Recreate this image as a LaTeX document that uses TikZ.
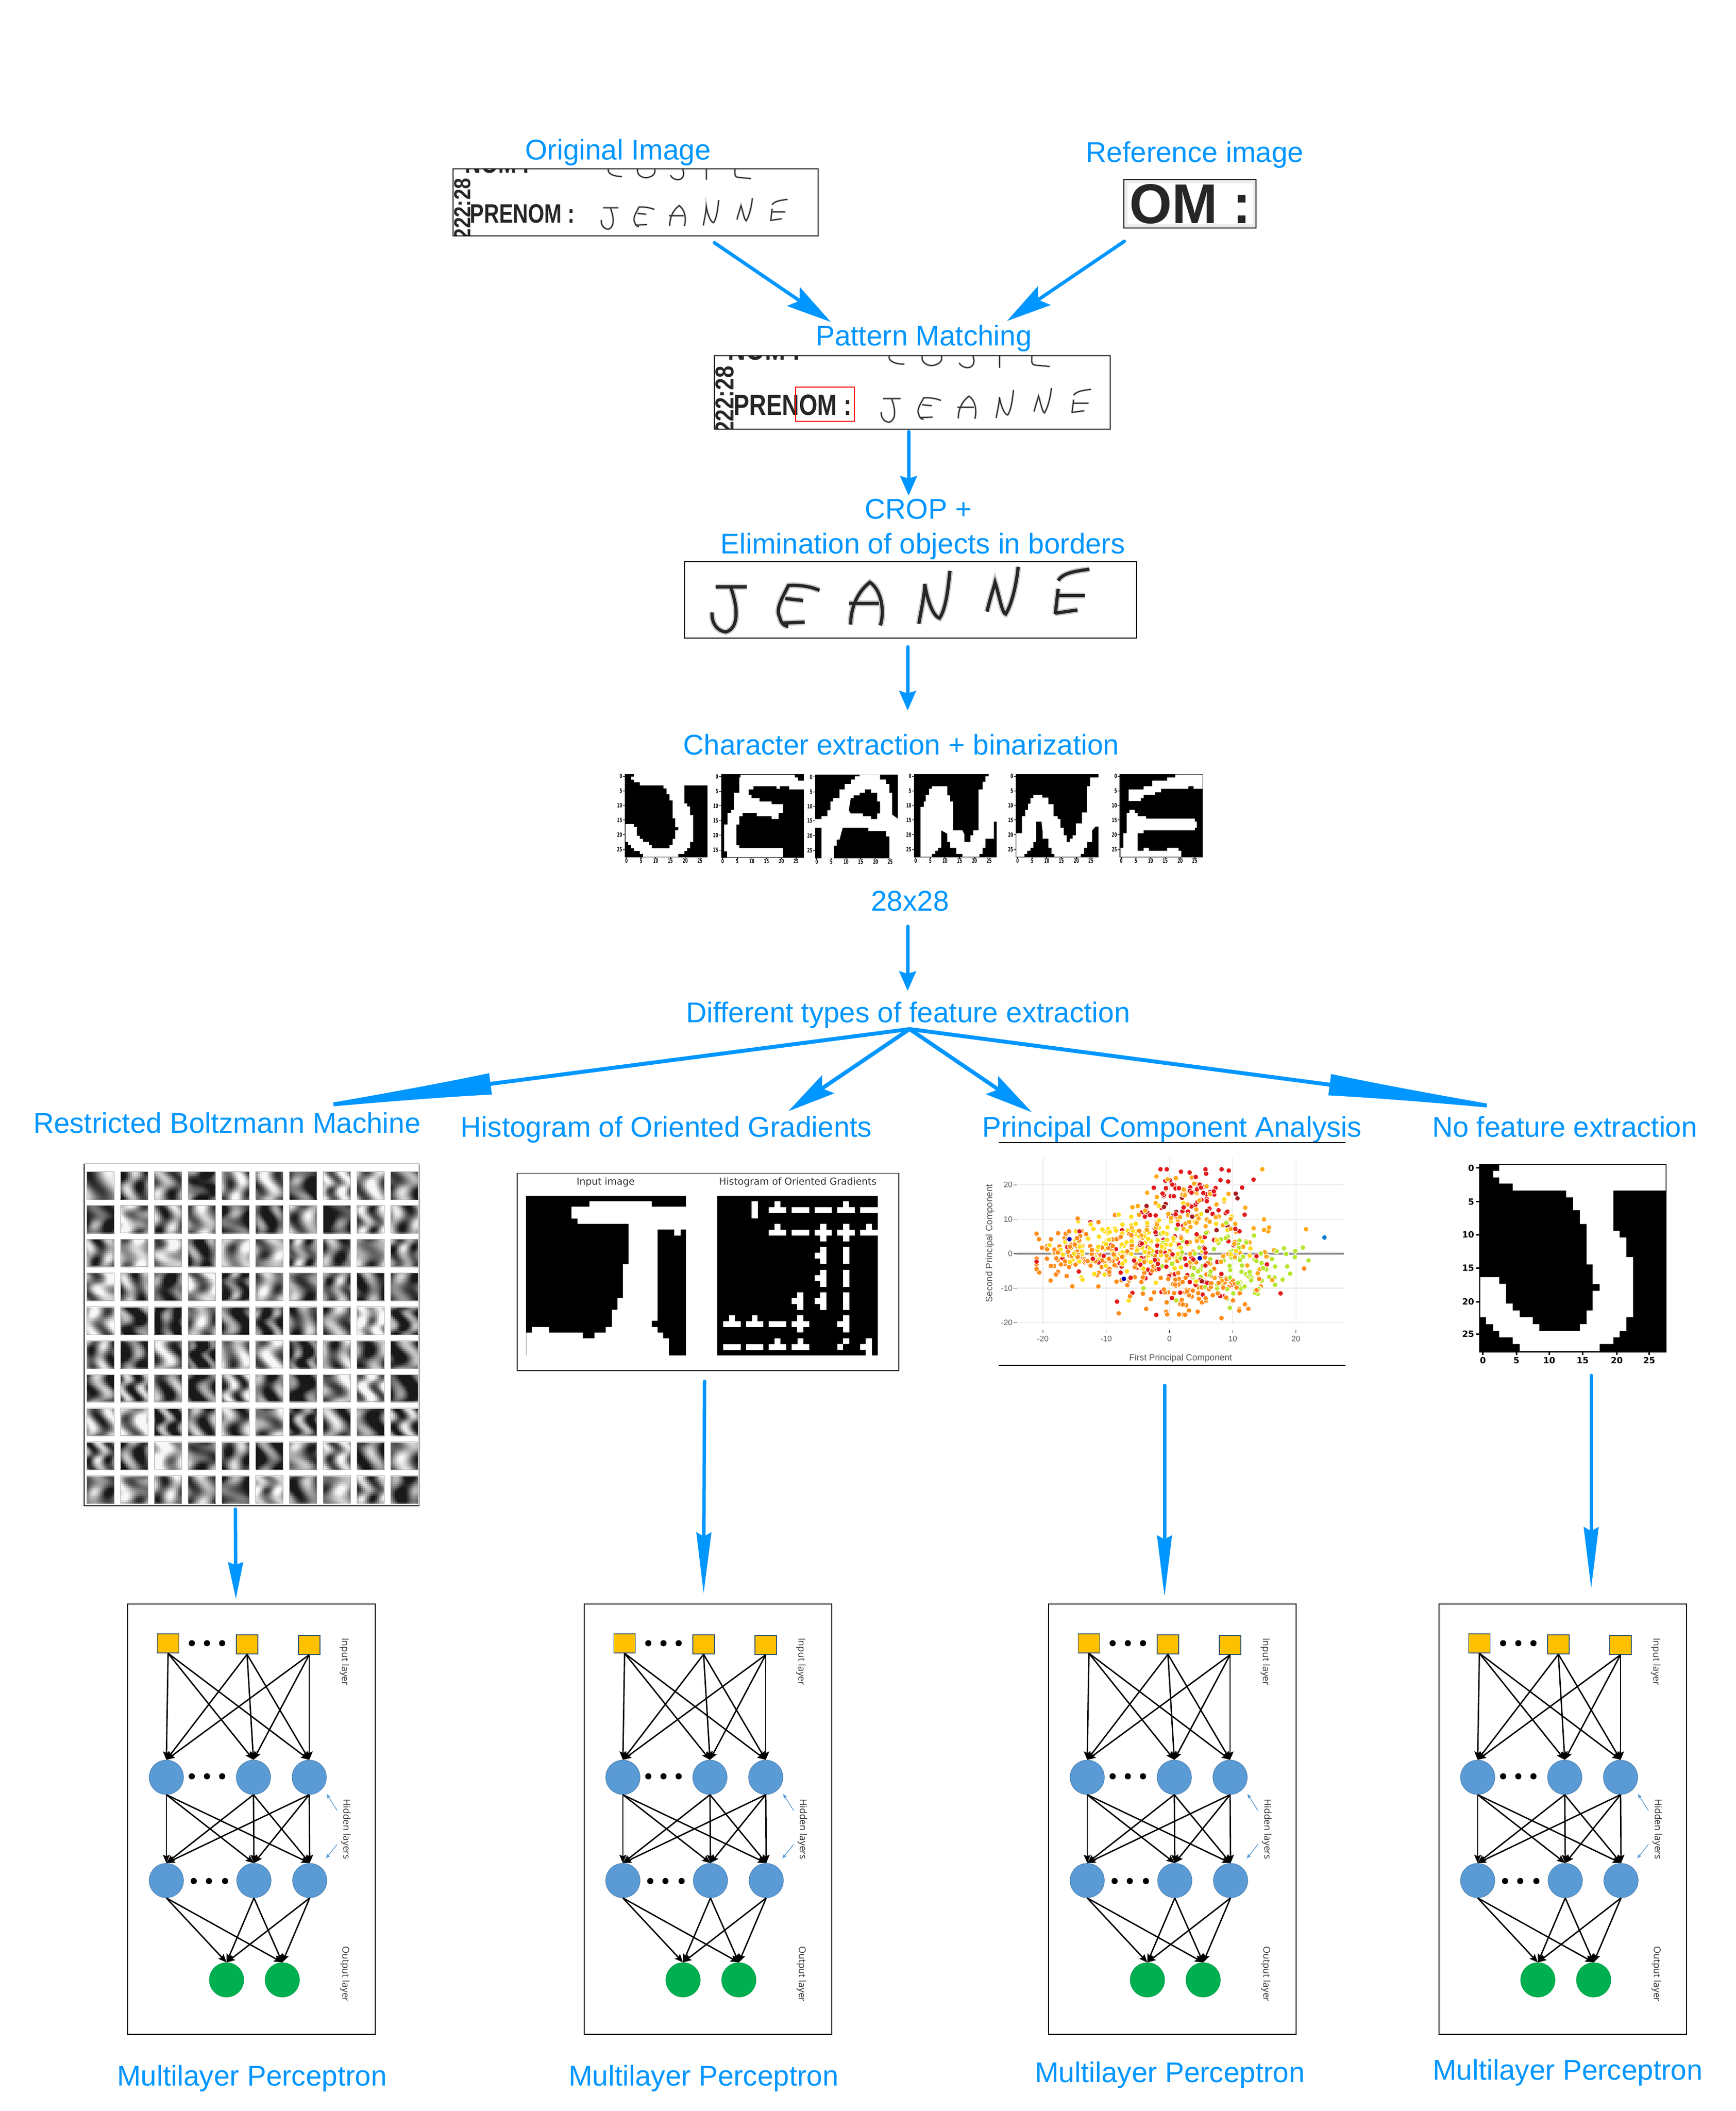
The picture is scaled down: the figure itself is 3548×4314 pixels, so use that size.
\documentclass[tikz,border=0pt]{standalone}
\usepackage{fontspec}
\setmainfont{Liberation Sans}
\newfontfamily\tickfont{DejaVu Sans}
\newfontfamily\mlpfont{Open Sans}
\usetikzlibrary{arrows.meta}
\definecolor{flowblue}{HTML}{0096FF}
\definecolor{mlpyellow}{HTML}{FFC000}
\definecolor{mlpblue}{HTML}{5B9BD5}
\definecolor{mlpgreen}{HTML}{00B050}
\definecolor{gridgray}{HTML}{EEEEEE}
\definecolor{axisgray}{HTML}{555555}
\definecolor{ptred}{HTML}{E31A1C}
\definecolor{ptorange}{HTML}{FF8C1A}
\definecolor{ptamber}{HTML}{FFAA1A}
\definecolor{ptyellow}{HTML}{FFDD1A}
\definecolor{ptgreen}{HTML}{B8E62E}
\definecolor{ptdark}{HTML}{A61C1C}
\tikzset{
 lab/.style={anchor=base,inner sep=0pt,text=flowblue,font=\fontsize{16.6}{19}\selectfont},
 flow/.style={draw=flowblue,line width=0.07cm,line cap=round,-{Stealth[length=0.92cm,width=0.46cm,inset=0.15cm]}},
 flowshort/.style={flow,-{Stealth[length=0.40cm,width=0.34cm,inset=0.05cm]}},
 flowmid/.style={flow,-{Stealth[length=0.75cm,width=0.30cm,inset=0.05cm]}},
 flowlong/.style={flow,-{Stealth[length=1.25cm,width=0.30cm,inset=0.08cm]}},
 fanlong/.style={flow,line width=0.08cm,-{Latex[length=4.45cm,width=0.44cm]}},
 fanshort/.style={flow,line width=0.08cm,-{Stealth[length=0.98cm,width=0.44cm,inset=0.15cm]}},
 picframe/.style={draw=black,line width=0.016cm},
 inlayer/.style={draw=black!45!mlpblue,line width=0.012cm,fill=mlpyellow,minimum width=0.44cm,minimum height=0.39cm,inner sep=0pt},
 hidlayer/.style={circle,draw=black!15!mlpblue,line width=0.012cm,fill=mlpblue,minimum size=0.70cm,inner sep=0pt},
 outlayer/.style={circle,draw=black!8!mlpgreen,line width=0.012cm,fill=mlpgreen,minimum size=0.70cm,inner sep=0pt},
 netedge/.style={draw=black,line width=0.028cm,-{Stealth[length=0.17cm,width=0.14cm,inset=0.03cm]}},
 hidarrow/.style={draw=mlpblue,line width=0.014cm,-{Stealth[length=0.09cm,width=0.07cm,inset=0.01cm]}},
 layername/.style={rotate=-90,inner sep=0pt,text=black!80,font=\mlpfont\fontsize{5.5}{6}\selectfont},
 ticktext/.style={inner sep=0pt,text=black,font=\tickfont\bfseries\fontsize{3.4}{4}\selectfont},
 bigtick/.style={inner sep=0pt,text=black,font=\tickfont\bfseries\fontsize{5.0}{6}\selectfont},
 hogtitle/.style={inner sep=0pt,text=black!80,font=\tickfont\fontsize{5.6}{7}\selectfont},
 pcaticks/.style={inner sep=0pt,text=axisgray,font=\fontsize{4.6}{6}\selectfont},
 printed/.style={inner sep=0pt,text=black!85,font=\bfseries},
}
\makeatletter
\newcommand\rawpdf[1]{\pgfsys@invoke{#1}}
\makeatother
\def\jeannepath{(120,178) -- (225,178) (170,178) .. controls (195,300) and (200,430) .. (155,455) .. controls (125,450) and (105,400) .. (108,335)
 (470,200) .. controls (440,175) and (400,165) .. (365,170) .. controls (350,230) and (320,310) .. (335,360) .. controls (340,400) and (350,420) .. (365,420) (345,400) -- (420,395) (355,250) -- (415,262)
 (575,410) .. controls (575,330) and (590,220) .. (640,150) .. controls (680,200) and (690,330) .. (675,415) (570,280) -- (670,280)
 (805,405) .. controls (815,300) and (825,220) .. (825,160) .. controls (830,230) and (850,360) .. (875,370) .. controls (900,300) and (905,150) .. (910,80)
 (1035,330) .. controls (1045,250) and (1055,200) .. (1062,150) .. controls (1075,220) and (1085,340) .. (1098,345) .. controls (1120,280) and (1135,150) .. (1140,55)
 (1380,70) .. controls (1340,80) and (1290,90) .. (1275,140) (1275,190) -- (1265,345) (1275,232) -- (1365,232) (1265,340) -- (1340,320)}
\def\costepath{(670,46) .. controls (665,70) and (685,92) .. (725,92)
 (790,46) .. controls (785,85) and (810,100) .. (825,100) .. controls (855,95) and (865,70) .. (860,46)
 (975,46) .. controls (985,85) and (975,110) .. (955,112) .. controls (940,110) and (930,100) .. (925,85)
 (1072,46) -- (1072,112)
 (1190,46) .. controls (1188,80) and (1190,95) .. (1200,97) -- (1255,105)}
% #1 prefix, #2 left, #3 top, #4 right, #5 bottom, #6 xscale, #7 yscale
\newcommand\scanner[7]{%
 \begin{scope}
 \clip (#2,#3) rectangle (#4,#5);
 \begin{scope}[shift={(#2,#3)},xscale=#6,yscale=#7,every node/.append style={transform shape}]
  \node[printed,anchor=base west] (#1nom) at (24,8) {\resizebox{1.32cm}{0.38cm}{NOM :}};
  \node[printed,anchor=base west] (#1pre) at (34,110) {\resizebox{2.14cm}{0.38cm}{PRENOM :}};
  \node[printed,anchor=base west,rotate=90] (#1strip) at (35,145) {\resizebox{1.25cm}{0.33cm}{222:28}};
  \begin{scope}[shift={(-16,-15)},x=0.004975cm,y=-0.00333cm]
   \draw[black!60,line width=0.04cm,opacity=.45] \costepath;
   \draw[black!85,line width=0.02cm] \costepath;
  \end{scope}
  \begin{scope}[shift={(270.6,51.3)},x=0.002994cm,y=-0.001585cm]
   \draw[black!60,line width=0.042cm,opacity=.45] \jeannepath;
   \draw[black!85,line width=0.02cm] \jeannepath;
  \end{scope}
 \end{scope}
 \end{scope}
 \draw[picframe] (#2,#3) rectangle (#4,#5);
}
% #1 id, #2 left of the box
\newcommand\mlp[2]{%
 \begin{scope}[shift={(#2,3278)}]
  \node[draw=black,line width=0.025cm,minimum width=5.06cm,minimum height=8.79cm,inner sep=0pt] (#1box) at (253,439.5) {};
  \node[inlayer] (#1i1) at (82.5,80.5) {};
  \node[inlayer] (#1i2) at (244,82.5) {};
  \node[inlayer] (#1i3) at (371,83.5) {};
  \node[hidlayer] (#1h1) at (79,354) {};
  \node[hidlayer] (#1h2) at (257,354) {};
  \node[hidlayer] (#1h3) at (371,354) {};
  \node[hidlayer] (#1k1) at (79,565) {};
  \node[hidlayer] (#1k2) at (258,565) {};
  \node[hidlayer] (#1k3) at (372,565) {};
  \node[outlayer] (#1o1) at (202,768) {};
  \node[outlayer] (#1o2) at (316,768) {};
  \foreach \a in {1,2,3}{\foreach \b in {1,2,3}{
    \draw[netedge] (#1i\a.south) -- (#1h\b.north);
    \draw[netedge] (#1h\a.south) -- (#1k\b.north);
  }}
  \foreach \a in {1,2,3}{\foreach \b in {1,2}{\draw[netedge] (#1k\a.south) -- (#1o\b.north);}}
  \foreach \dx in {131,162,193}{\fill[black] (\dx,80) circle[radius=0.063cm]; \fill[black] (\dx,352) circle[radius=0.063cm];}
  \foreach \dx in {135,166,199}{\fill[black] (\dx,566) circle[radius=0.063cm];}
  \node[layername] (#1ln1) at (443,118) {Input layer};
  \node[layername] (#1ln2) at (446,460) {Hidden layers};
  \node[layername] (#1ln3) at (444,756) {Output layer};
  \coordinate (#1aa) at (428,422); \coordinate (#1ab) at (406.5,388);
  \coordinate (#1ac) at (428,491); \coordinate (#1ad) at (405,520);
  \draw[hidarrow] (#1aa) -- (#1ab);
  \draw[hidarrow] (#1ac) -- (#1ad);
 \end{scope}
}
\newcommand\hogbar[2]{\fill[white] (#1+19,#2) rectangle (#1+40,#2+92);}
\newcommand\hogdash[2]{\fill[white] (#1,#2+31) rectangle (#1+59,#2+62);}
\newcommand\hogtee[2]{\hogdash{#1}{#2}\fill[white] (#1+20,#2) rectangle (#1+39,#2+31);}
\newcommand\hogplus[2]{\hogdash{#1}{#2}\hogbar{#1}{#2}}
\newcommand\hogleft[2]{\hogbar{#1}{#2}\fill[white] (#1,#2+31) rectangle (#1+19,#2+62);}
\def\Jshape{(428,340) (1316,340) (1316,477) (1037,477) (1037,692) (1070,692) (1070,728) (1106,728) (1106,833) (1142,833) (1142,1153) (1106,1153) (1106,1227) (1070,1227) (1070,1260) (1037,1260) (1037,1296) (964,1296) (964,1333) (537,1333) (537,1296) (500,1296) (500,1260) (428,1260) (428,1227) (396,1227) (396,1190) (358,1190) (358,1153) (327,1153) (327,940) (428,940) (428,975) (464,975) (464,1080) (500,1080) (500,1117) (537,1117) (537,1153) (607,1153) (607,1190) (642,1190) (642,1227) (858,1227) (858,1190) (894,1190) (894,1117) (926,1117) (926,1012) (964,1012) (964,976) (926,976) (926,871) (894,871) (894,656) (858,656) (858,582) (822,582) (822,514) (785,514) (785,477) (500,477) (500,440) (428,440) (428,408) (396,408) (396,372) (428,372)}
\begin{document}
\begin{tikzpicture}[x=0.01cm,y=-0.01cm]
\useasboundingbox (0,0) rectangle (3548,4314);
\fill[white] (0,0) rectangle (3548,4314);
%---- labels
\node[lab] (lorig) at (1263,326) {Original Image};
\node[lab] (lref) at (2442,331) {Reference image};
\node[lab] (lpat) at (1888,706) {Pattern Matching};
\node[lab] (lcrop) at (1877,1060) {CROP +};
\node[lab] (lelim) at (1886,1131) {Elimination of objects in borders};
\node[lab] (lchar) at (1842,1542) {Character extraction + binarization};
\node[lab] (lsize) at (1860,1861) {28x28};
\node[lab] (ldiff) at (1856,2089) {Different types of feature extraction};
\node[lab] (lrbm) at (464,2315) {Restricted Boltzmann Machine};
\node[lab] (lhog) at (1362,2323) {Histogram of Oriented Gradients};
\node[lab] (lpca) at (2395,2323) {Principal Component Analysis};
\node[lab] (lnfe) at (3198,2323) {No feature extraction};
\node[lab] (lm1) at (515,4262) {Multilayer Perceptron};
\node[lab] (lm2) at (1438,4262) {Multilayer Perceptron};
\node[lab] (lm3) at (2391,4255) {Multilayer Perceptron};
\node[lab] (lm4) at (3204,4250) {Multilayer Perceptron};
%---- scanned images
\scanner{so}{926}{345}{1672}{482}{1}{1}
\scanner{sp}{1460}{727}{2269}{877}{1.126}{1.1}
\draw[red,line width=0.02cm] (1626,791) rectangle (1746,861);
% reference image
\fill[black!7] (2297,367) rectangle (2567,466);
\fill[white] (2305,375) rectangle (2560,458);
\node[printed,anchor=south west] (refom) at (2308,458) {\resizebox{2.48cm}{0.80cm}{OM :}};
\draw[picframe] (2297,367) rectangle (2567,466);
% crop
\begin{scope}[shift={(1390,1140)},x=0.00606cm,y=-0.00333cm]
 \draw[black!60,line width=0.12cm,opacity=.35] \jeannepath;
 \draw[black!85,line width=0.065cm] \jeannepath;
\end{scope}
\draw[picframe] (1399,1148) rectangle (2323,1304);
%---- characters
\foreach \pl/\pt/\pn in {93/294/a,330/296/b,562/298/c,806/294/d,1057/294/e,1313/294/f}{
 \begin{scope}[shift={(1200,1450)},x=0.008292cm,y=-0.004464cm]
  \fill[black] (\pl,\pt) rectangle (\pl+204,\pt+382);
  \foreach \tv/\ty in {0/10,5/78,10/144,15/211,20/278,25/346}{
   \fill[black] (\pl-5,\pt+\ty-1) rectangle (\pl,\pt+\ty+1);
   \node[ticktext,anchor=east] (cy\pn\tv) at (\pl-6,\pt+\ty) {\scalebox{.62}[1]{\tv}};
  }
  \foreach \tv/\tx in {0/4,5/40,10/76,15/112,20/149,25/185}{
   \fill[black] (\pl+\tx-1,\pt+382) rectangle (\pl+\tx+1,\pt+387);
   \node[ticktext] (cx\pn\tv) at (\pl+\tx,\pt+398) {\scalebox{.62}[1]{\tv}};
  }
 \end{scope}
}
\begin{scope}[shift={(1223,1523.5)},x=0.00169cm,y=-0.001705cm]
 \fill[white] plot coordinates {\Jshape} -- cycle;
\end{scope}
\begin{scope}[shift={(1200,1450)},x=0.008292cm,y=-0.004464cm]
 % E
 \fill[white] plot coordinates {(378,298) (512,298) (512,310) (520,310) (520,325) (535,325) (535,365) (498,365) (498,350) (475,350) (475,362) (467,362) (467,350) (410,350) (410,365) (398,365) (398,390) (405,390) (405,405) (425,405) (425,420) (455,420) (455,432) (483,432) (483,472) (472,472) (472,500) (455,500) (455,487) (418,487) (418,472) (383,472) (383,487) (375,487) (375,525) (368,525) (368,620) (375,620) (375,633) (483,633) (483,675) (345,675) (345,648) (338,648) (338,525) (346,525) (346,472) (355,472) (355,458) (362,458) (362,380) (375,380) (375,310) (378,310)} -- cycle;
 % A
 \fill[white] plot coordinates {(672,298) (722,298) (722,320) (737,320) (737,340) (745,340) (745,380) (752,380) (752,480) (767,500) (767,680) (745,680) (745,580) (737,580) (737,555) (693,555) (693,540) (630,540) (622,595) (615,595) (615,622) (608,622) (608,680) (578,680) (578,540) (562,540) (562,500) (578,500) (578,487) (592,487) (592,460) (600,460) (600,420) (607,420) (607,405) (622,405) (622,365) (635,365) (635,340) (650,340) (650,320) (660,320) (660,305) (672,305)} -- cycle;
 \fill[black] plot coordinates {(685,365) (700,365) (700,380) (715,380) (715,420) (722,420) (722,475) (715,475) (715,500) (700,500) (700,487) (680,487) (680,475) (650,475) (645,460) (650,405) (657,405) (657,392) (672,392) (672,380) (685,380)} -- cycle;
 % N
 \fill[white] plot coordinates {(850,350) (888,350) (888,392) (895,392) (895,420) (902,420) (902,552) (925,552) (930,570) (930,605) (945,605) (945,575) (952,575) (952,552) (965,552) (965,365) (975,365) (975,330) (982,330) (982,305) (990,305) (990,294) (1010,294) (1010,512) (1003,512) (1003,590) (982,590) (982,632) (975,632) (975,660) (967,660) (967,673) (925,673) (925,660) (910,660) (910,632) (895,632) (895,605) (888,605) (888,567) (873,552) (873,632) (865,632) (865,645) (858,645) (858,660) (850,660) (850,673) (822,673) (822,445) (830,445) (830,420) (835,420) (835,390) (843,390) (843,362) (850,362)} -- cycle;
 % N
 \fill[white] plot coordinates {(1100,390) (1122,390) (1122,402) (1137,402) (1137,432) (1150,432) (1150,487) (1160,487) (1160,500) (1167,500) (1167,540) (1175,540) (1175,575) (1182,575) (1182,605) (1190,605) (1190,590) (1197,590) (1197,575) (1205,575) (1205,520) (1220,520) (1220,470) (1232,470) (1232,350) (1240,350) (1240,310) (1261,310) (1261,535) (1253,535) (1245,552) (1245,605) (1233,605) (1233,632) (1225,632) (1225,660) (1217,660) (1217,673) (1152,673) (1152,660) (1145,660) (1145,632) (1137,632) (1137,590) (1123,590) (1123,560) (1120,512) (1107,512) (1107,605) (1100,605) (1100,632) (1093,632) (1093,645) (1085,645) (1085,660) (1078,660) (1078,673) (1058,673) (1058,565) (1072,565) (1072,487) (1080,487) (1080,458) (1087,458) (1087,430) (1093,430) (1093,405) (1100,405)} -- cycle;
 % E
 \fill[white] plot coordinates {(1430,310) (1450,310) (1450,297) (1517,297) (1517,362) (1495,362) (1495,350) (1482,350) (1482,362) (1415,362) (1415,378) (1400,378) (1400,390) (1372,390) (1372,405) (1365,405) (1365,418) (1335,418) (1335,365) (1372,365) (1372,350) (1393,350) (1393,325) (1430,325)} -- cycle;
 \fill[white] plot coordinates {(1330,472) (1337,472) (1337,458) (1350,458) (1350,472) (1357,472) (1357,487) (1378,487) (1378,498) (1498,498) (1498,512) (1503,512) (1503,540) (1498,540) (1498,552) (1372,552) (1372,565) (1357,565) (1357,645) (1372,645) (1372,632) (1385,632) (1385,645) (1430,645) (1430,632) (1458,632) (1458,645) (1465,645) (1465,673) (1315,673) (1315,632) (1322,632) (1322,565) (1330,565)} -- cycle;
\end{scope}
%---- RBM filters
\foreach \rr in {0,...,9}{\foreach \cc in {0,...,9}{
 \pgfmathsetmacro\tone{{45,55,50,70,40,40,70,35,35,55,70,35,50,40,70,75,45,80,45,50,50,30,35,70,35,40,50,60,45,50,35,50,70,30,65,40,55,50,65,60,35,65,75,40,70,70,55,50,25,65,50,70,45,85,40,35,75,50,60,65,60,55,60,75,45,65,80,40,30,80,45,30,65,60,50,40,60,50,65,50,50,65,20,55,55,75,50,40,60,45,55,40,45,50,70,35,60,40,50,70}[\rr*10+\cc]}
 \pgfmathsetmacro\pa{mod(\rr*137+\cc*91+20,360)}
 \pgfmathsetmacro\pb{mod(\rr*53+\cc*211+70,360)}
 \pgfmathsetmacro\pc{mod(\rr*311+\cc*29,360)}
 \pgfmathsetmacro\fa{18+mod(\rr*7+\cc*13,19)}
 \pgfmathsetmacro\fb{15+mod(\rr*11+\cc*5,18)}
 \pgfmathsetmacro\tx{177.3+69*\cc}
 \pgfmathsetmacro\ty{2394+69*\rr}
 \gdef\tilestr{}
 \foreach \ii in {0,...,13}{\foreach \jj in {0,...,13}{
  \pgfmathtruncatemacro\vv{min(97,max(10,100-(\tone+30*sin(\fa*\ii+60*sin(\fb*\jj+\pb)+\pa)+14*cos(\fb*\ii-\fa*\jj+\pc))))}
  \xdef\tilestr{\tilestr 0.\vv\space g \ii\space \jj\space 1.15 1.15 re f }
 }}
 \pgfmathsetmacro\qx{\tx*0.283465}
 \pgfmathsetmacro\qy{-\ty*0.283465}
 \rawpdf{q 1.13386 0 0 -1.13386 \qx\space \qy\space cm \tilestr Q}
 \draw[black!35,line width=0.008cm] (\tx,\ty) rectangle (\tx+56,\ty+56);
}}
\draw[picframe] (172,2378.5) rectangle (856.5,3077);
%---- HOG
\begin{scope}[shift={(950,2250)},x=0.00606cm,y=-0.003827cm]
 \draw[picframe] (177,385) rectangle (1463,1438);
 \node[hogtitle] (hogt1) at (475,433) {Input image};
 \node[hogtitle] (hogt2) at (1123,433) {Histogram of Oriented Gradients};
 \fill[black] (207,505) rectangle (746,1357);
 \fill[white] plot coordinates {(420,535) (630,535) (630,563) (746,563) (746,685) (728,685) (728,718) (706,718) (706,685) (650,685) (650,1172) (630,1172) (630,1205) (650,1205) (650,1235) (669,1235) (669,1265) (688,1265) (688,1357) (207,1357) (207,1235) (226,1235) (226,1205) (284,1205) (284,1235) (398,1235) (398,1265) (437,1265) (437,1235) (475,1235) (475,1205) (496,1205) (496,1113) (515,1113) (515,1050) (533,1050) (533,870) (552,870) (552,655) (380,655) (380,627) (360,627) (360,563) (420,563)} -- cycle;
 \fill[black] (852,505) rectangle (1392,1357);
 \hogbar{948}{535}\hogtee{1025}{535}\hogdash{1102}{535}\hogdash{1179}{535}\hogtee{1256}{535}\hogdash{1333}{535}
 \hogtee{1025}{656}\hogdash{1102}{656}\hogplus{1179}{656}\hogplus{1256}{656}\hogtee{1333}{656}
 \hogleft{1179}{777}\hogbar{1256}{777}
 \hogleft{1179}{899}\hogbar{1256}{899}
 \hogleft{1102}{1021}\hogleft{1179}{1021}\hogbar{1256}{1021}
 \hogtee{871}{1143}\hogtee{948}{1143}\hogdash{1025}{1143}\hogplus{1102}{1143}\hogleft{1256}{1143}
 \hogdash{871}{1265}\hogdash{948}{1265}\hogtee{1025}{1265}\hogtee{1102}{1265}
 \fill[white] (1275,1265) rectangle (1296,1296) (1256,1296) rectangle (1275,1327);
 \fill[white] (1352,1265) rectangle (1373,1357) (1333,1296) rectangle (1352,1327);
\end{scope}
%---- PCA
\draw[black,line width=0.016cm] (2041,2335) -- (2750,2335);
\draw[black,line width=0.016cm] (2041,2790) -- (2750,2790);
\foreach \gx in {-20,-10,0,10,20}{
 \pgfmathsetmacro\gp{2390+12.93*\gx}
 \draw[gridgray,line width=0.022cm] (\gp,2367) -- (\gp,2705);
 \draw[axisgray,line width=0.012cm] (\gp,2718) -- (\gp,2724);
 \node[pcaticks] (pcax\gx) at (\gp,2736) {\gx};
}
\foreach \gy in {-20,-10,10,20,0}{
 \pgfmathsetmacro\gp{2562-7.04*\gy}
 \draw[gridgray,line width=0.022cm] (2079,\gp) -- (2747,\gp);
 \draw[axisgray,line width=0.012cm] (2072,\gp) -- (2079,\gp);
 \node[pcaticks,anchor=east] (pcay\gy) at (2070,\gp) {\gy};
}
\draw[black!45,line width=0.035cm] (2079,2562) -- (2747,2562);
\node[pcaticks,font=\fontsize{5.2}{6}\selectfont] (pcaxl) at (2413,2776) {First Principal Component};
\node[pcaticks,rotate=90,font=\fontsize{5.3}{6}\selectfont] (pcayl) at (2023,2541) {Second Principal Component};
\pgfmathsetseed{4242}
\foreach \kk in {1,...,780}{
 \pgfmathrandominteger{\ttv}{1}{100}
 \ifnum\ttv<9 \def\mx{3}\def\my{17}\def\sx{3.5}\def\sy{4}\def\colr{ptred}\else
 \ifnum\ttv<14 \def\mx{3}\def\my{14}\def\sx{5}\def\sy{5}\def\colr{ptamber}\else
 \ifnum\ttv<28 \def\mx{-13}\def\my{0}\def\sx{4.5}\def\sy{4}\def\colr{ptorange}\else
 \ifnum\ttv<44 \def\mx{-8}\def\my{2}\def\sx{5}\def\sy{4}\def\colr{ptyellow}\else
 \ifnum\ttv<58 \def\mx{3}\def\my{-10}\def\sx{5.5}\def\sy{4.5}\def\colr{ptorange}\else
 \ifnum\ttv<70 \def\mx{-1}\def\my{-1}\def\sx{8}\def\sy{7}\def\colr{ptred}\else
 \ifnum\ttv<82 \def\mx{9}\def\my{-4}\def\sx{6}\def\sy{5.5}\def\colr{ptgreen}\else
 \ifnum\ttv<91 \def\mx{6}\def\my{4}\def\sx{6}\def\sy{6}\def\colr{ptamber}\else
 \ifnum\ttv<98 \def\mx{1}\def\my{3}\def\sx{6}\def\sy{7}\def\colr{ptyellow}\else
 \def\mx{3}\def\my{8}\def\sx{4}\def\sy{7}\def\colr{ptdark}\fi\fi\fi\fi\fi\fi\fi\fi\fi
 \pgfmathsetmacro\ppx{2390+12.93*max(-21,min(22,\mx+\sx*(rand+rand+rand)))}
 \pgfmathsetmacro\ppy{2562-7.04*max(-19,min(24.5,\my+\sy*(rand+rand+rand)))}
 \fill[fill=\colr,draw=white,line width=0.012cm] (\ppx,\ppy) circle[radius=0.055cm];
}
\foreach \ox/\oy/\oc in {24.5/4.7/{blue!40!cyan!80!black},-15.8/4.2/{blue!70!black},4.8/-1.3/{blue!70!black},-7.2/-7.3/{blue!70!black},5.7/24.5/ptred,13.3/21.5/ptred,21.6/7.1/ptamber,21.3/-4.3/ptorange,-21/-2.3/ptred,-14.5/10.2/ptorange}{
 \fill[fill=\oc,draw=white,line width=0.012cm] (2390+12.93*\ox,2562-7.04*\oy) circle[radius=0.055cm];
}
%---- 28x28 J
\begin{scope}[shift={(2900,2250)},x=0.003827cm,y=-0.003827cm]
 \fill[black] (320,337) rectangle (1320,1340);
 \fill[white] plot coordinates {\Jshape} -- cycle;
 \foreach \tv/\ty in {0/357,5/537,10/713,15/890,20/1070,25/1243}{
  \fill[black] (305,\ty-4) rectangle (320,\ty+4);
  \node[bigtick,anchor=east] (ny\tv) at (296,\ty) {\tv};
 }
 \foreach \tv/\tx in {0/341,5/520,10/695,15/873,20/1055,25/1228}{
  \fill[black] (\tx-4,1340) rectangle (\tx+4,1355);
  \node[bigtick] (nx\tv) at (\tx,1383) {\tv};
 }
\end{scope}
%---- networks
\mlp{na}{261}
\mlp{nb}{1194}
\mlp{nc}{2143}
\mlp{nd}{2941}
%---- flow arrows
\coordinate (c1a) at (1460,496); \coordinate (c1b) at (1698,658);
\coordinate (c2a) at (2298,493); \coordinate (c2b) at (2058,656);
\coordinate (c3a) at (1857,882); \coordinate (c3b) at (1857,1013);
\coordinate (c4a) at (1855,1322); \coordinate (c4b) at (1855,1452);
\coordinate (c5a) at (1855,1893); \coordinate (c5b) at (1855,2025);
\coordinate (fan) at (1859,2103);
\coordinate (f1) at (561,2272.6); \coordinate (f2) at (1611,2271);
\coordinate (f3) at (2109,2273); \coordinate (f4) at (3159,2275);
\coordinate (d1a) at (481,3084); \coordinate (d1b) at (482,3268);
\coordinate (d2a) at (1440,2823); \coordinate (d2b) at (1438,3257);
\coordinate (d3a) at (2380,2831); \coordinate (d3b) at (2380,3263);
\coordinate (d4a) at (3252,2811); \coordinate (d4b) at (3252,3246);
\draw[flow] (c1a) -- (c1b);
\draw[flow] (c2a) -- (c2b);
\draw[flowshort] (c3a) -- (c3b);
\draw[flowshort] (c4a) -- (c4b);
\draw[flowshort] (c5a) -- (c5b);
\draw[fanlong] (fan) -- (f1);
\draw[fanshort] (fan) -- (f2);
\draw[fanshort] (fan) -- (f3);
\draw[fanlong] (fan) -- (f4);
\draw[flowmid] (d1a) -- (d1b);
\draw[flowlong] (d2a) -- (d2b);
\draw[flowlong] (d3a) -- (d3b);
\draw[flowlong] (d4a) -- (d4b);
\end{tikzpicture}
\end{document}
